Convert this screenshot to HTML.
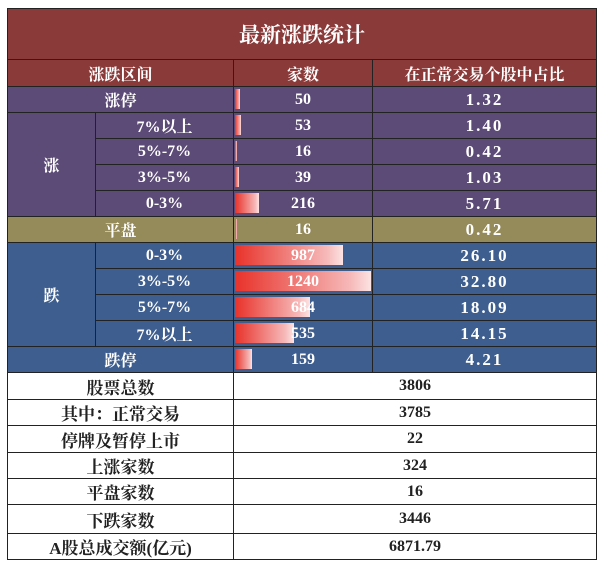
<!DOCTYPE html>
<html><head><meta charset="utf-8">
<style>
body{margin:0;background:#fff;width:600px;height:574px;overflow:hidden;font-family:"Liberation Serif","Noto Serif CJK SC",serif;}
#t{position:absolute;left:0;top:0;width:600px;height:574px;}
.c{position:absolute;box-sizing:border-box;border:1px solid #222;display:flex;align-items:center;justify-content:center;font-weight:bold;font-size:16px;color:#fff;}
.bar{position:absolute;height:20px;background:linear-gradient(to right,#e8322a,#f6b9b9 85%,#fce3e3);}
.txt{position:relative;z-index:2}
</style></head><body>
<div id="t"></div>
<script>
const labels=["涨停","7%以上","5%-7%","3%-5%","0-3%","平盘","0-3%","3%-5%","5%-7%","7%以上","跌停"];
const counts=[50,53,16,39,216,16,987,1240,684,535,159];
const pcts=["1.32","1.40","0.42","1.03","5.71","0.42","26.10","32.80","18.09","14.15","4.21"];
const sumLabels=["股票总数","其中：正常交易","停牌及暂停上市","上涨家数","平盘家数","下跌家数","A股总成交额(亿元)"];
const sumValues=["3806","3785","22","324","16","3446","6871.79"];
const T=document.getElementById('t');
const X0=7,X1=95,X2=233,X3=372,X4=596;
const maxC=1240, barMax=136;
function cell(x,y,w,h,bg,text,name,color,fs){
 const d=document.createElement('div');d.className='c';
 
 
 d.style.cssText=`left:${x}px;top:${y}px;width:${w+1}px;height:${h+1}px;background:${bg};`+(color?`color:${color};`:'')+(fs?`font-size:${fs}px;`:'');
 const s=document.createElement('span');s.className='txt';s.textContent=text;d.appendChild(s);
 T.appendChild(d);return d;
}
cell(X0,8,X4-X0,51,'#8a3a39','最新涨跌统计','title',null,21);
const hy=59,hh=27;
cell(X0,hy,X2-X0,hh,'#8a3a39','涨跌区间','header-range');
cell(X2,hy,X3-X2,hh,'#8a3a39','家数','header-count');
cell(X3,hy,X4-X3,hh,'#8a3a39','在正常交易个股中占比','header-ratio');
const rh=26,y0=86;
const colors=['#5c4a77','#5c4a77','#5c4a77','#5c4a77','#5c4a77','#958a5a','#3d5e8e','#3d5e8e','#3d5e8e','#3d5e8e','#3d5e8e'];
cell(X0,y0+rh,X1-X0,rh*4,'#5c4a77','涨','group-up');
cell(X0,y0+rh*6,X1-X0,rh*4,'#3d5e8e','跌','group-down');
labels.forEach((l,i)=>{
 const y=y0+i*rh, full=(i==0||i==5||i==10);
 if(full) cell(X0,y,X2-X0,rh,colors[i],l,'row-label');
 else cell(X1,y,X2-X1,rh,colors[i],l,'row-label');
 const c=cell(X2,y,X3-X2,rh,colors[i],String(counts[i]),'count-cell');
 const b=document.createElement('div');b.className='bar';
 
 
 b.style.left='1px';b.style.top='2px';b.style.width=Math.max(2,counts[i]/maxC*barMax)+'px';
 c.appendChild(b);
 cell(X3,y,X4-X3,rh,colors[i],pcts[i],'ratio-cell',null,17).style.letterSpacing='2px';
});
const sy=372,sh=[27,26,27,26,26,29,26];
let y=sy;
sumLabels.forEach((l,i)=>{
 cell(X0,y,X2-X0,sh[i],'#fff',l,'summary-label','#222',17);
 cell(X2,y,X4-X2,sh[i],'#fff',sumValues[i],'summary-value','#222',16);
 y+=sh[i];
});
</script>
</body></html>
